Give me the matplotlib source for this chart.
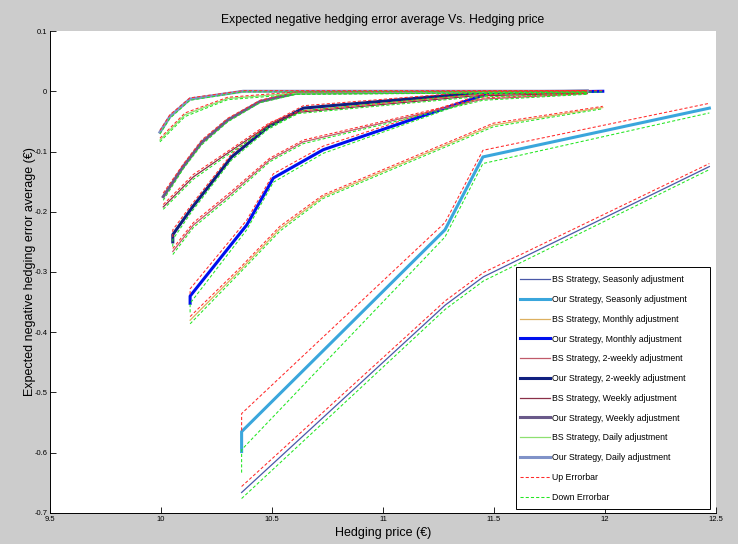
import matplotlib

matplotlib.use("Agg")
import matplotlib.pyplot as plt
from matplotlib.patches import Rectangle

plt.rcParams["font.family"] = ["Liberation Sans", "DejaVu Sans"]
plt.rcParams["axes.unicode_minus"] = False

# hedging price (x), mean negative hedging error (y), error half-width (e)
x_bs_season = [10.363, 11.280, 11.452, 12.470]
y_bs_season = [-0.666, -0.355, -0.308, -0.125]
e_bs_season = [0.010, 0.007, 0.007, 0.005]

x_our_season = [10.363, 10.363, 11.279, 11.450, 12.470]
y_our_season = [-0.598, -0.565, -0.230, -0.109, -0.028]
e_our_season = [0.035, 0.030, 0.012, 0.011, 0.008]

x_bs_month = [10.131, 10.356, 10.536, 10.730, 11.497, 11.990]
y_bs_month = [-0.380, -0.297, -0.228, -0.175, -0.056, -0.027]
e_bs_month = [0.006, 0.004, 0.004, 0.003, 0.003, 0.002]

x_our_month = [10.131, 10.131, 10.386, 10.506, 10.731, 11.480, 11.990]
y_our_month = [-0.352, -0.340, -0.222, -0.144, -0.097, -0.003, 0.000]
e_our_month = [0.015, 0.012, 0.008, 0.007, 0.006, 0.002, 0.001]

x_bs_2week = [10.053, 10.146, 10.311, 10.490, 10.641, 11.450, 11.920]
y_bs_2week = [-0.266, -0.222, -0.172, -0.114, -0.084, -0.013, -0.004]
e_bs_2week = [0.005, 0.004, 0.004, 0.003, 0.003, 0.002, 0.001]

x_our_2week = [10.053, 10.053, 10.138, 10.318, 10.483, 10.641, 11.450, 11.920]
y_our_2week = [-0.250, -0.238, -0.194, -0.109, -0.059, -0.028, -0.002, 0.000]
e_our_2week = [0.008, 0.008, 0.006, 0.005, 0.004, 0.004, 0.002, 0.001]

x_bs_week = [10.010, 10.146, 10.311, 10.490, 10.620, 11.400, 11.920]
y_bs_week = [-0.192, -0.142, -0.100, -0.055, -0.035, -0.008, -0.003]
e_bs_week = [0.004, 0.004, 0.003, 0.003, 0.002, 0.002, 0.001]

x_our_week = [10.010, 10.100, 10.183, 10.300, 10.446, 10.611, 11.920]
y_our_week = [-0.175, -0.125, -0.085, -0.048, -0.017, -0.003, 0.000]
e_our_week = [0.006, 0.004, 0.004, 0.003, 0.002, 0.002, 0.001]

x_bs_day = [9.995, 10.108, 10.300, 10.610, 11.920]
y_bs_day = [-0.081, -0.039, -0.012, -0.003, -0.001]
e_bs_day = [0.003, 0.003, 0.002, 0.002, 0.001]

x_our_day = [9.995, 10.040, 10.130, 10.370, 11.920]
y_our_day = [-0.068, -0.042, -0.013, 0.000, 0.000]
e_our_day = [0.003, 0.003, 0.002, 0.001, 0.001]

x_ticks = [9.5, 10, 10.5, 11, 11.5, 12, 12.5]
x_tick_labels = ["9.5", "10", "10.5", "11", "11.5", "12", "12.5"]
y_ticks = [0.1, 0, -0.1, -0.2, -0.3, -0.4, -0.5, -0.6, -0.7]
y_tick_labels = ["0.1", "0", "-0.1", "-0.2", "-0.3", "-0.4", "-0.5", "-0.6", "-0.7"]

curves = [
    ("BS Strategy, Seasonly adjustment", x_bs_season, y_bs_season, e_bs_season, "#4a58a8", 0.9),
    ("Our Strategy, Seasonly adjustment", x_our_season, y_our_season, e_our_season, "#3aa6dc", 2.2),
    ("BS Strategy, Monthly adjustment", x_bs_month, y_bs_month, e_bs_month, "#ddb060", 0.9),
    ("Our Strategy, Monthly adjustment", x_our_month, y_our_month, e_our_month, "#0010ee", 2.2),
    ("BS Strategy, 2-weekly adjustment", x_bs_2week, y_bs_2week, e_bs_2week, "#c05a6a", 0.9),
    ("Our Strategy, 2-weekly adjustment", x_our_2week, y_our_2week, e_our_2week, "#102080", 2.2),
    ("BS Strategy, Weekly adjustment", x_bs_week, y_bs_week, e_bs_week, "#8a3048", 0.9),
    ("Our Strategy, Weekly adjustment", x_our_week, y_our_week, e_our_week, "#6a5a8a", 2.2),
    ("BS Strategy, Daily adjustment", x_bs_day, y_bs_day, e_bs_day, "#8ee070", 0.9),
    ("Our Strategy, Daily adjustment", x_our_day, y_our_day, e_our_day, "#8092c8", 2.2),
]

fig = plt.figure(figsize=(7.38, 5.44), dpi=100, facecolor="#cccccc")
ax = fig.add_axes([0.0678, 0.057, 0.9024, 0.886])
ax.set_facecolor("white")

handles = []
for label, xs, ys, es, color, lw in curves:
    (h,) = ax.plot(xs, ys, color=color, lw=lw, label=label, zorder=2)
    handles.append(h)

up_h = down_h = None
for label, xs, ys, es, color, lw in curves:
    up = [y + e for y, e in zip(ys, es)]
    down = [y - e for y, e in zip(ys, es)]
    (up_h,) = ax.plot(xs, up, color="#ff2a2a", lw=0.75, dashes=(3, 2), zorder=3)
    (down_h,) = ax.plot(xs, down, color="#22e622", lw=0.75, dashes=(3, 2), zorder=3)
up_h.set_label("Up Errorbar")
down_h.set_label("Down Errorbar")
handles += [up_h, down_h]

ax.set_xlim(9.5, 12.5)
ax.set_ylim(-0.7, 0.1)
ax.set_xticks(x_ticks)
ax.set_xticklabels(x_tick_labels)
ax.set_yticks(y_ticks)
ax.set_yticklabels(y_tick_labels)
ax.tick_params(direction="in", length=4, width=0.6, labelsize=5.5, pad=2)
for side in ("top", "right"):
    ax.spines[side].set_visible(False)
for side in ("left", "bottom"):
    ax.spines[side].set_linewidth(0.7)

ax.set_title("Expected negative hedging error average Vs. Hedging price", fontsize=8.7, pad=6)
ax.set_xlabel("Hedging price (€)", fontsize=9, labelpad=3)
ax.set_ylabel("Expected negative hedging error average (€)", fontsize=9, labelpad=-1)

# MATLAB-style legend box: wider on the right than the entries need
box = Rectangle((0.6997, 0.0083), 0.2913, 0.5021, transform=ax.transAxes,
                facecolor="white", edgecolor="black", lw=0.7, zorder=4)
ax.add_patch(box)
leg = ax.legend(
    handles=handles,
    loc="upper left",
    bbox_to_anchor=(0.6997, 0.5015),
    borderaxespad=0,
    fontsize=6.3,
    labelspacing=1.23,
    handlelength=3.43,
    handletextpad=0.2,
    borderpad=0.45,
    frameon=False,
)
leg.set_zorder(5)

fig.savefig("out.png", dpi=100, facecolor=fig.get_facecolor())
